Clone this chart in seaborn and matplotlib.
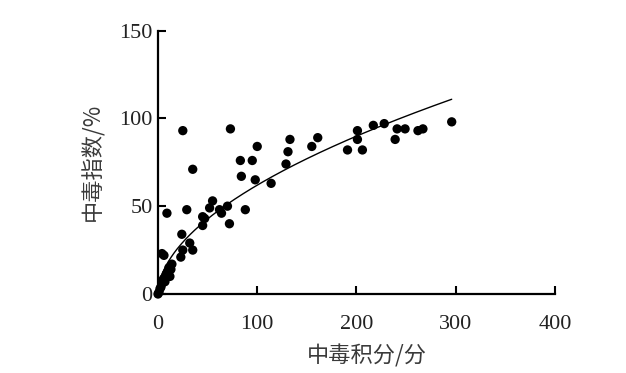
import numpy as np
import pandas as pd
import matplotlib
matplotlib.use("Agg")
import matplotlib.pyplot as plt
import seaborn as sns

# ── Data ─────────────────────────────────────────────────────────────────────
score = [0, 1, 2, 3, 4, 5, 6, 7, 8, 9, 10, 11, 12, 4, 6,
         9, 23, 25, 24, 32, 35, 29, 25, 35, 73,
         45, 47, 45, 52, 55, 62, 64, 70, 72, 88,
         83, 84, 95, 98, 100, 114, 129, 131, 133,
         155, 161, 191, 201, 201, 206, 217, 228, 239, 241, 249,
         262, 267, 296, 14, 13]
index_pct = [0, 1, 3, 4, 6, 8, 9, 7, 11, 12, 13, 15, 10, 23, 22,
             46, 21, 25, 34, 29, 25, 48, 93, 71, 94,
             39, 43, 44, 49, 53, 48, 46, 50, 40, 48,
             76, 67, 76, 65, 84, 63, 74, 81, 88,
             84, 89, 82, 93, 88, 82, 96, 97, 88, 94, 94,
             93, 94, 98, 17, 14]

# power-law fit drawn in the chart: y = a * x ** b
fit_a, fit_b = 5.25, 0.536
fit_x = np.linspace(1.5, 296, 200)

x_ticks = [0, 100, 200, 300, 400]
y_ticks = [0, 50, 100, 150]

# ── Style ────────────────────────────────────────────────────────────────────
sns.set_style("ticks")
plt.rcParams["font.family"] = ["Liberation Serif", "Noto Sans CJK SC"]

df = pd.DataFrame({"score": score, "index": index_pct})
curve = pd.DataFrame({"x": fit_x, "y": fit_a * fit_x ** fit_b})

fig = plt.figure(figsize=(6.26, 3.73), dpi=100)
ax = fig.add_axes([0.2524, 0.2118, 0.634, 0.7064])

sns.scatterplot(data=df, x="score", y="index", ax=ax, color="black",
                s=45, edgecolor="none", zorder=3, clip_on=False)
sns.lineplot(data=curve, x="x", y="y", ax=ax, color="black", linewidth=1.0)

ax.set_xlim(0, 400)
ax.set_ylim(0, 150)
ax.set_xticks(x_ticks)
ax.set_yticks(y_ticks)
for sp in ("top", "right"):
    ax.spines[sp].set_visible(False)
for sp in ("left", "bottom"):
    ax.spines[sp].set_linewidth(1.6)
    ax.spines[sp].set_color("black")

ax.tick_params(axis="both", direction="in", length=6, width=1.5,
               labelsize=16, colors="black")
ax.tick_params(axis="x", pad=15)
ax.tick_params(axis="y", pad=4)
for lab in ax.get_xticklabels() + ax.get_yticklabels():
    lab.set_color("#222222")

cjk = ["Noto Sans CJK SC", "DejaVu Sans"]
ax.set_xlabel("中毒积分/分", fontsize=16, color="#3a3a3a", family=cjk,
              fontweight="light")
ax.set_ylabel("中毒指数/%", fontsize=16, color="#3a3a3a", family=cjk,
              fontweight="light")
ax.xaxis.set_label_coords(0.527, -0.19)
ax.yaxis.set_label_coords(-0.135, 0.5)

fig.savefig("out.png", dpi=100)
